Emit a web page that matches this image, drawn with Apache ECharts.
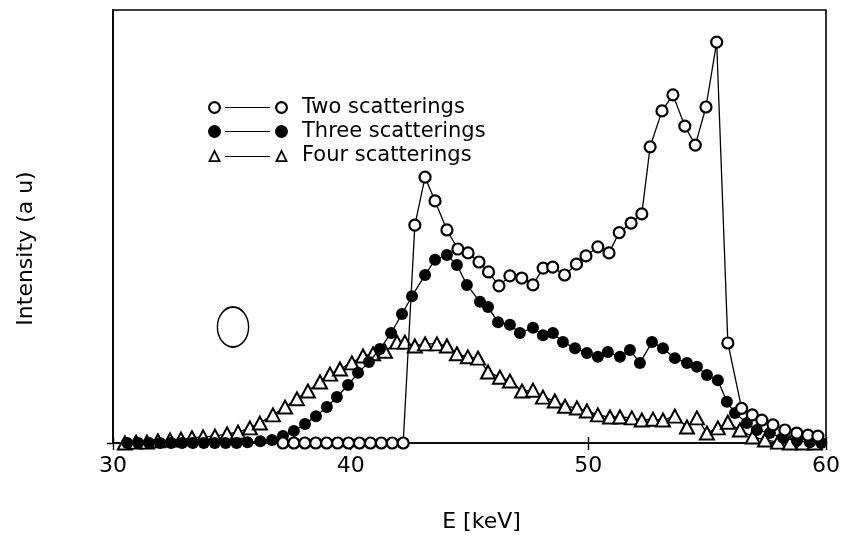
<!DOCTYPE html>
<html>
<head>
<meta charset="utf-8">
<script src="https://cdn.jsdelivr.net/npm/echarts@6/dist/echarts.min.js"></script>
<style>
  html, body { margin: 0; padding: 0; background: #fff; }
  #chart { width: 846px; height: 546px; }
</style>
</head>
<body>
<div id="chart"></div>
<script>
// Energy axis ticks (keV)
const xTicks = [30, 40, 50, 60];

// Two scatterings (open circles): energy (keV) and intensity (a.u.)
const twoE = [37.15, 37.61, 38.07, 38.53, 38.99, 39.45, 39.91, 40.37, 40.83, 41.29, 41.75, 42.21,
  42.70, 43.13, 43.55, 44.05, 44.51, 44.94, 45.40, 45.80, 46.24, 46.70,
  47.20, 47.67, 48.10, 48.50, 49.00, 49.50, 49.90, 50.40, 50.87, 51.30,
  51.80, 52.25, 52.60, 53.10, 53.56, 54.06, 54.50, 54.95, 55.40, 55.87,
  56.45, 56.90, 57.30, 57.77, 58.27, 58.77, 59.24, 59.66];
const twoI = [0, 0, 0, 0, 0, 0, 0, 0, 0, 0, 0, 0,
  50.3, 61.4, 55.9, 49.2, 44.8, 43.9, 41.8, 39.5, 36.3, 38.6,
  38.1, 36.5, 40.4, 40.6, 38.8, 41.3, 43.2, 45.3, 43.9, 48.6,
  50.8, 52.9, 68.4, 76.7, 80.4, 73.2, 68.8, 77.6, 92.6, 23.1,
  8.0, 6.5, 5.3, 4.2, 3.0, 2.3, 1.8, 1.6];

// Three scatterings (filled circles)
const threeE = [30.6, 31.06, 31.52, 31.98, 32.44, 32.9, 33.36, 33.82, 34.28, 34.74, 35.2, 35.66, 36.2,
  36.69, 37.15, 37.61, 38.08, 38.54, 39.0, 39.42, 39.89, 40.31, 40.77,
  41.23, 41.70, 42.16, 42.58, 43.13, 43.55, 44.05, 44.47, 44.89, 45.44,
  45.78, 46.20, 46.70, 47.12, 47.67, 48.09, 48.51, 48.93, 49.44, 49.94,
  50.40, 50.82, 51.33, 51.75, 52.17, 52.68, 53.14, 53.64, 54.15, 54.57,
  54.99, 55.45, 55.83, 56.17, 56.67, 57.09, 57.64, 58.19, 58.78, 59.32, 59.80];
const threeI = [0, 0, 0, 0, 0, 0, 0, 0, 0, 0, 0, 0.2, 0.4,
  0.7, 1.6, 2.8, 4.4, 6.2, 8.3, 10.6, 13.4, 16.2, 18.7,
  21.7, 25.4, 29.8, 33.9, 38.8, 42.3, 43.4, 41.1, 36.5, 32.6,
  31.4, 27.9, 27.3, 25.4, 26.6, 24.9, 25.4, 23.3, 21.9, 20.8,
  19.9, 21.0, 19.9, 21.5, 18.5, 23.3, 21.9, 19.6, 18.5, 17.6,
  15.7, 14.5, 9.5, 6.9, 4.6, 3.0, 2.3, 1.2, 0.5, 0.2, 0];

// Four scatterings (open triangles)
const fourE = [30.50, 30.97, 31.43, 31.89, 32.40, 32.86, 33.32, 33.79, 34.29, 34.80,
  35.26, 35.76, 36.18, 36.73, 37.24, 37.74, 38.20, 38.71, 39.13, 39.55,
  40.05, 40.52, 40.94, 41.44, 41.95, 42.28, 42.70, 43.13, 43.63, 44.05,
  44.47, 44.93, 45.36, 45.78, 46.28, 46.70, 47.21, 47.67, 48.09, 48.59,
  49.02, 49.52, 49.94, 50.40, 50.91, 51.33, 51.83, 52.25, 52.72, 53.14,
  53.64, 54.15, 54.57, 54.99, 55.45, 55.87, 56.38, 56.92, 57.43, 57.98,
  58.48, 59.03, 59.53];
const fourI = [0, 0.2, 0.2, 0.5, 0.7, 0.9, 1.2, 1.4, 1.6, 2.1,
  2.5, 3.5, 4.6, 6.5, 8.3, 10.2, 12.0, 14.1, 15.9, 17.1,
  18.5, 20.1, 20.6, 21.2, 23.3, 23.3, 22.4, 22.9, 22.9, 22.4,
  20.6, 19.9, 19.6, 16.4, 15.2, 14.3, 12.0, 12.2, 10.6, 9.7,
  8.5, 8.1, 7.4, 6.5, 6.0, 6.0, 5.8, 5.3, 5.5, 5.3,
  6.2, 3.7, 5.8, 2.3, 3.5, 4.8, 3.0, 1.4, 0.7, 0.2,
  0, 0, 0];

const seriesNames = ['Two scatterings', 'Three scatterings', 'Four scatterings'];

const pairs = (xs, ys) => xs.map((x, i) => [x, ys[i]]);

const FONT = 'DejaVu Sans';

// Legend glyphs: marker — line — marker
const ringIcon = 'path://M0,6.5 A6.5,6.5 0 1,1 13,6.5 A6.5,6.5 0 1,1 0,6.5 Z ' +
  'M2.2,6.5 A4.3,4.3 0 1,0 10.8,6.5 A4.3,4.3 0 1,0 2.2,6.5 Z ' +
  'M17,5.9 L62,5.9 L62,7.1 L17,7.1 Z ' +
  'M67,6.5 A6.5,6.5 0 1,1 80,6.5 A6.5,6.5 0 1,1 67,6.5 Z ' +
  'M69.2,6.5 A4.3,4.3 0 1,0 77.8,6.5 A4.3,4.3 0 1,0 69.2,6.5 Z';
const dotIcon = 'path://M0,6.5 A6.5,6.5 0 1,1 13,6.5 A6.5,6.5 0 1,1 0,6.5 Z ' +
  'M17,5.9 L62,5.9 L62,7.1 L17,7.1 Z ' +
  'M67,6.5 A6.5,6.5 0 1,1 80,6.5 A6.5,6.5 0 1,1 67,6.5 Z';
const triIcon = 'path://M0,13 L6.5,0 L13,13 Z M2.9,11.2 L10.1,11.2 L6.5,4.0 Z ' +
  'M17,6.9 L62,6.9 L62,8.1 L17,8.1 Z ' +
  'M67,13 L73.5,0 L80,13 Z M69.9,11.2 L77.1,11.2 L73.5,4.0 Z';

const chart = echarts.init(document.getElementById('chart'), null, { renderer: 'canvas' });

const baseSeries = {
  type: 'line',
  showAllSymbol: true,
  animation: false,
  emphasis: { disabled: true },
  lineStyle: { color: '#000', width: 1.3 }
};

chart.setOption({
  backgroundColor: '#fff',
  animation: false,
  textStyle: { fontFamily: FONT, color: '#000' },
  grid: {
    left: 113, right: 20, top: 10, bottom: 103,
    show: true, borderColor: '#000', borderWidth: 1.6, backgroundColor: 'transparent'
  },
  legend: {
    orient: 'vertical',
    left: 203,
    top: 92,
    itemWidth: 80,
    itemHeight: 13,
    itemGap: 3,
    selectedMode: false,
    textStyle: { fontFamily: FONT, fontSize: 21, color: '#000', lineHeight: 13, padding: [0, 0, 0, 9] },
    data: [
      { name: seriesNames[0], icon: ringIcon, itemStyle: { color: '#000', borderWidth: 0 } },
      { name: seriesNames[1], icon: dotIcon, itemStyle: { color: '#000', borderWidth: 0 } },
      { name: seriesNames[2], icon: triIcon, itemStyle: { color: '#000', borderWidth: 0 } }
    ]
  },
  xAxis: [
    {
      type: 'value',
      min: xTicks[0],
      max: xTicks[xTicks.length - 1],
      interval: 10,
      name: 'E [keV]',
      nameLocation: 'middle',
      nameGap: 68,
      nameTextStyle: { fontFamily: FONT, fontSize: 22, color: '#000', padding: [0, 0, 0, 24] },
      axisLine: { show: true, lineStyle: { color: '#000', width: 1.6 } },
      axisTick: { show: true, inside: false, length: 7, lineStyle: { color: '#000', width: 1.4 } },
      axisLabel: { fontFamily: FONT, fontSize: 22, color: '#000', margin: 12 },
      splitLine: { show: false }
    },
    {
      type: 'value',
      position: 'bottom',
      min: xTicks[0],
      max: xTicks[xTicks.length - 1],
      interval: 10,
      axisLine: { show: false },
      axisTick: { show: true, inside: true, length: 6, lineStyle: { color: '#000', width: 1.4 } },
      axisLabel: { show: false },
      splitLine: { show: false }
    }
  ],
  yAxis: {
    type: 'value',
    min: 0,
    max: 100,
    interval: 100,
    name: 'Intensity (a u)',
    nameLocation: 'middle',
    nameGap: 76,
    nameRotate: 90,
    nameTextStyle: { fontFamily: FONT, fontSize: 22, color: '#000', padding: [0, 44, 0, 0] },
    axisLine: { show: true, lineStyle: { color: '#000', width: 1.6 } },
    axisTick: { show: true, inside: false, length: 6, customValues: [0], lineStyle: { color: '#000', width: 1.4 } },
    axisLabel: { show: false },
    splitLine: { show: false }
  },
  graphic: [
    {
      type: 'circle',
      x: 233, y: 327,
      scaleX: 0.78, scaleY: 1,
      shape: { cx: 0, cy: 0, r: 20 },
      style: { fill: 'none', stroke: '#000', lineWidth: 1.8 },
      silent: true
    }
  ],
  series: [
    Object.assign({}, baseSeries, {
      name: seriesNames[2],
      data: pairs(fourE, fourI),
      symbol: 'triangle',
      symbolSize: [14, 13],
      itemStyle: { color: '#fff', borderColor: '#000', borderWidth: 2 },
      z: 2
    }),
    Object.assign({}, baseSeries, {
      name: seriesNames[1],
      data: pairs(threeE, threeI),
      symbol: 'circle',
      symbolSize: 12,
      itemStyle: { color: '#000', borderColor: '#000', borderWidth: 0 },
      z: 3
    }),
    Object.assign({}, baseSeries, {
      name: seriesNames[0],
      data: pairs(twoE, twoI),
      symbol: 'circle',
      symbolSize: 11,
      itemStyle: { color: '#fff', borderColor: '#000', borderWidth: 2.2 },
      z: 4
    })
  ]
});
</script>
</body>
</html>
